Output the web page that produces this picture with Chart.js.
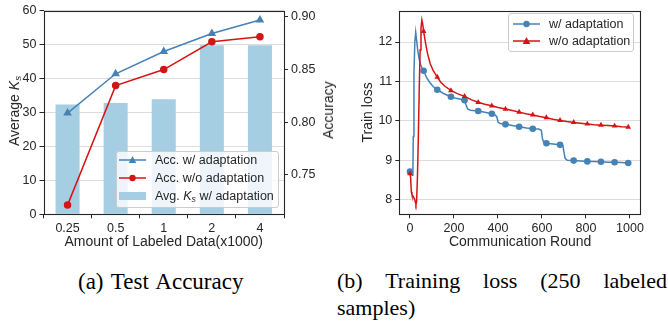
<!DOCTYPE html>
<html>
<head>
<meta charset="utf-8">
<script src="https://cdn.jsdelivr.net/npm/chart.js@4"></script>
<style>
  body { margin: 0; background: #fff; width: 668px; height: 321px; position: relative; overflow: hidden; }
  canvas { position: absolute; top: 0; }
  .ax { position: absolute; white-space: nowrap; font: 14px "Liberation Sans", Arial, sans-serif; color: #262626; line-height: 1; transform: translate(-50%, -50%) rotate(-90deg); }
  .leg { position: absolute; background: rgba(255,255,255,0.8); border: 1px solid #cccccc; border-radius: 3px; box-sizing: border-box; }
  .row { position: absolute; left: 0; height: 14px; font: 12.5px "Liberation Sans", Arial, sans-serif; color: #262626; white-space: nowrap; }
  .row svg { position: absolute; top: 0; }
  .row span { position: absolute; top: 0; line-height: 14px; }
  sub { font-size: 0.7em; vertical-align: -0.25em; line-height: 0; }
  .cap { position: absolute; font: 22px "Liberation Serif", "Times New Roman", serif; color: #000; line-height: 27px; }
</style>
</head>
<body>
<canvas id="accChart" width="338" height="256" style="left:0"></canvas>
<canvas id="lossChart" width="328" height="256" style="left:340px"></canvas>

<div class="ax" style="left:13.5px; top:111px">Average <i>K<sub>s</sub></i></div>
<div class="ax" style="left:327.7px; top:110px">Accuracy</div>

<div class="leg" id="accLegend" style="left:115.7px; top:150.7px; width:163.6px; height:57.3px"></div>
<div class="leg" id="lossLegend" style="left:508.3px; top:13.3px; width:126px; height:39px"></div>

<div class="cap" style="left:78px; top:268px; font-size:23px; word-spacing:2px">(a) Test Accuracy</div>
<div class="cap" style="left:337px; top:267px; width:330px; text-align:justify">(b) Training loss (250 labeled samples)</div>

<script>
// ---- data: (a) test accuracy ----
const amountLabels = ['0.25', '0.5', '1', '2', '4'];
const avgKs = [32.3, 32.8, 33.9, 49.8, 49.8];
const accWith = [0.8085, 0.8457, 0.8668, 0.8839, 0.8966];
const accWithout = [0.7214, 0.8345, 0.8497, 0.8760, 0.8807];
const accTicks = [0.75, 0.80, 0.85, 0.90];

// ---- data: (b) training loss ----
const roundsWith = [0, 6, 10, 13, 15, 18, 22, 26, 30, 35, 40, 48, 55, 62, 75, 90, 105, 124, 150, 170, 186,
  210, 235, 248, 255, 262, 275, 310, 340, 372, 385, 395, 400, 410, 434, 465, 496, 530, 558, 585, 597,
  602, 608, 620, 650, 682, 695, 700, 705, 715, 744, 775, 806, 837, 868, 900, 930, 962, 992];
const lossWith = [8.71, 8.70, 8.62, 8.65, 9.6, 11.2, 12.0, 12.25, 12.05, 11.8, 11.62, 11.43, 11.34, 11.27,
  11.10, 10.97, 10.87, 10.79, 10.70, 10.65, 10.61, 10.57, 10.54, 10.52, 10.40, 10.30, 10.27, 10.25, 10.22,
  10.18, 10.16, 10.10, 9.97, 9.93, 9.91, 9.88, 9.85, 9.82, 9.80, 9.79, 9.76, 9.55, 9.45, 9.43, 9.41, 9.39,
  9.37, 9.20, 9.05, 9.00, 8.99, 8.98, 8.97, 8.97, 8.96, 8.95, 8.95, 8.94, 8.93];
const roundsWithout = [0, 3, 6, 9, 13, 17, 20, 24, 27, 30, 34, 38, 42, 46, 50, 54, 58, 62, 70, 80, 92, 105,
  124, 140, 160, 186, 215, 248, 280, 310, 340, 372, 400, 434, 465, 496, 527, 558, 590, 620, 650, 682,
  713, 744, 775, 806, 837, 868, 900, 930, 962, 992];
const lossWithout = [8.66, 8.55, 8.20, 8.12, 8.10, 8.05, 8.02, 7.95, 7.88, 7.95, 8.6, 9.6, 10.8, 11.8, 12.35,
  12.56, 12.45, 12.27, 12.0, 11.7, 11.45, 11.28, 11.11, 10.98, 10.87, 10.77, 10.69, 10.62, 10.53, 10.47,
  10.42, 10.38, 10.34, 10.30, 10.26, 10.22, 10.18, 10.15, 10.11, 10.08, 10.04, 10.01, 9.98, 9.96, 9.94,
  9.92, 9.90, 9.89, 9.88, 9.87, 9.85, 9.84];
const markRounds = [0, 62, 124, 186, 248, 310, 372, 434, 496, 558, 620, 682, 744, 806, 868, 930, 992];
const roundTicks = [0, 200, 400, 600, 800, 1000];
const lossTicks = [8, 9, 10, 11, 12];

const blue = '#4682b4';
const red = '#d41515';
const barBlue = '#a6cee3';
const ink = '#262626';

Chart.defaults.font.family = '"Liberation Sans", Arial, sans-serif';
Chart.defaults.font.size = 12.5;
Chart.defaults.color = ink;

// box around plot area
const framePlugin = {
  id: 'frame',
  afterDatasetsDraw(chart) {
    const a = chart.chartArea;
    const c = chart.ctx;
    c.save();
    c.strokeStyle = ink;
    c.lineWidth = 1.1;
    c.strokeRect(Math.round(a.left) + 0.5, Math.round(a.top) + 0.5,
      Math.round(a.right - a.left) - 1, Math.round(a.bottom - a.top) - 1);
    c.restore();
  }
};

function tickGrid(onChart) {
  return { display: true, drawOnChartArea: onChart, color: '#dcdcdc', lineWidth: 1,
    drawTicks: true, tickLength: 4, tickColor: ink, tickWidth: 1 };
}
function fixTicks(list) {
  return scale => { scale.ticks = list.map(v => ({ value: v })); };
}

// (a) accuracy + avg Ks
new Chart(document.getElementById('accChart'), {
  data: {
    labels: amountLabels,
    datasets: [
      { type: 'line', label: 'Acc. w/ adaptation', data: accWith, yAxisID: 'y1', order: 1,
        borderColor: blue, backgroundColor: blue, borderWidth: 1.5, pointStyle: 'triangle',
        pointRadius: 3.5, tension: 0 },
      { type: 'line', label: 'Acc. w/o adaptation', data: accWithout, yAxisID: 'y1', order: 2,
        borderColor: red, backgroundColor: red, borderWidth: 1.5, pointStyle: 'circle',
        pointRadius: 3, tension: 0 },
      { type: 'bar', label: 'Avg. Ks w/ adaptation', data: avgKs, yAxisID: 'y', order: 3,
        backgroundColor: barBlue, barPercentage: 0.5, categoryPercentage: 1 }
    ]
  },
  options: {
    responsive: false,
    animation: false,
    layout: { padding: { top: 6, right: 0, left: 0, bottom: 0 } },
    plugins: { legend: { display: false }, tooltip: { enabled: false } },
    scales: {
      x: {
        offset: true,
        grid: tickGrid(false),
        border: { display: false },
        ticks: { padding: 3 },
        title: { display: true, text: 'Amount of Labeled Data(x1000)', font: { size: 14 }, padding: { top: 0, bottom: 5 } },
        afterFit: s => { s.height = 41.7; }
      },
      y: {
        position: 'left', min: 0, max: 60,
        grid: tickGrid(true),
        border: { display: false },
        ticks: { stepSize: 10, padding: 3 },
        afterFit: s => { s.width = 43.5; }
      },
      y1: {
        position: 'right', min: 0.7127, max: 0.9056,
        grid: tickGrid(false),
        border: { display: false },
        ticks: { padding: 3, callback: v => v.toFixed(2) },
        afterBuildTicks: fixTicks(accTicks),
        afterFit: s => { s.width = 54; }
      }
    }
  },
  plugins: [framePlugin]
});

// (b) training loss
const markerSize = ctx => (ctx.raw && markRounds.includes(ctx.raw.x)) ? 3.3 : 0;
new Chart(document.getElementById('lossChart'), {
  type: 'line',
  data: {
    datasets: [
      { label: 'w/ adaptation', data: roundsWith.map((r, i) => ({ x: r, y: lossWith[i] })), order: 2,
        borderColor: blue, backgroundColor: blue, borderWidth: 1.5, pointStyle: 'circle',
        pointRadius: markerSize, pointBorderWidth: 0, tension: 0 },
      { label: 'w/o adaptation', data: roundsWithout.map((r, i) => ({ x: r, y: lossWithout[i] })), order: 1,
        borderColor: red, backgroundColor: red, borderWidth: 1.5, pointStyle: 'triangle',
        pointRadius: markerSize, pointBorderWidth: 0, tension: 0 }
    ]
  },
  options: {
    responsive: false,
    animation: false,
    layout: { padding: { top: 6, right: 27, left: 0, bottom: 0 } },
    plugins: { legend: { display: false }, tooltip: { enabled: false } },
    scales: {
      x: {
        type: 'linear', min: -48.6, max: 1050,
        grid: tickGrid(false),
        border: { display: false },
        ticks: { padding: 3, callback: v => String(v) },
        afterBuildTicks: fixTicks(roundTicks),
        title: { display: true, text: 'Communication Round', font: { size: 14 }, padding: { top: 0, bottom: 5 } },
        afterFit: s => { s.height = 41.7; }
      },
      y: {
        min: 7.627, max: 12.80,
        grid: tickGrid(true),
        border: { display: false },
        ticks: { padding: 3, callback: v => String(v) },
        afterBuildTicks: fixTicks(lossTicks),
        title: { display: true, text: 'Train loss', font: { size: 14 }, padding: { top: 20, bottom: 0 } },
        afterFit: s => { s.width = 59.3; }
      }
    }
  },
  plugins: [framePlugin]
});

// html legends (need italic K with subscript)
function glyph(kind, color) {
  const w = 27;
  if (kind === 'bar') {
    return `<svg width="${w}" height="14"><rect x="0" y="3" width="${w}" height="8" fill="${color}"/></svg>`;
  }
  let m = `<circle cx="${w / 2}" cy="7" r="3.2" fill="${color}"/>`;
  if (kind === 'triangle') m = `<polygon points="${w / 2},3 ${w / 2 + 3.8},10 ${w / 2 - 3.8},10" fill="${color}"/>`;
  return `<svg width="${w}" height="14"><line x1="0" y1="7" x2="${w}" y2="7" stroke="${color}" stroke-width="1.5"/>${m}</svg>`;
}
function makeLegend(id, rows, glyphX, textX) {
  const box = document.getElementById(id);
  for (const r of rows) {
    const d = document.createElement('div');
    d.className = 'row';
    d.style.top = (r.cy - 7) + 'px';
    d.innerHTML = glyph(r.kind, r.color).replace('<svg', `<svg style="left:${glyphX}px"`) +
      `<span style="left:${textX}px">${r.text}</span>`;
    box.appendChild(d);
  }
}
makeLegend('accLegend', [
  { kind: 'triangle', color: blue, text: 'Acc. w/ adaptation', cy: 8.3 },
  { kind: 'circle', color: red, text: 'Acc. w/o adaptation', cy: 26 },
  { kind: 'bar', color: barBlue, text: 'Avg. <i>K<sub>s</sub></i> w/ adaptation', cy: 44 }
], 2.3, 38.3);
makeLegend('lossLegend', [
  { kind: 'circle', color: blue, text: 'w/ adaptation', cy: 9.7 },
  { kind: 'triangle', color: red, text: 'w/o adaptation', cy: 27 }
], 4, 39.7);
</script>
</body>
</html>
